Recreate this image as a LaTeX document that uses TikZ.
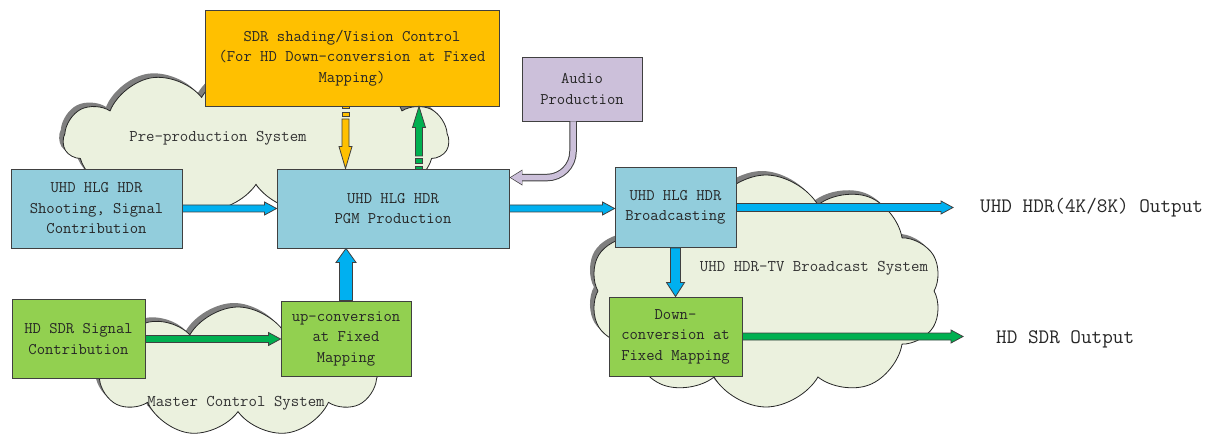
\documentclass[tikz,border=0pt]{standalone}
\usepackage{fontspec}
\usepackage{tikz}
\usetikzlibrary{
  arrows.meta,
  calc,
  shapes.symbols
}
\definecolor{hdrblue}{HTML}{92CDDC}
\definecolor{sdrgreen}{HTML}{92D050}
\definecolor{shadeorange}{HTML}{FFC000}
\definecolor{audiolilac}{HTML}{CCC0DA}
\definecolor{cloudfill}{HTML}{EBF1DE}
\definecolor{cloudshadow}{HTML}{7F7F7F}
\definecolor{sigblue}{HTML}{00B0F0}
\definecolor{siggreen}{HTML}{00B050}
\definecolor{edgegray}{HTML}{404040}

\tikzset{
  blockbox/.style={draw=edgegray, line width=0.9pt, align=center, inner sep=2pt,
    font=\fontsize{16.2}{20.5}\selectfont\ttfamily, text=black!85},
  puffcloud/.style={cloud, cloud puffs=#1, cloud puff arc=120, cloud ignores aspect,
    fill=cloudfill, draw=black!85, line width=0.8pt},
  cloudshade/.style={cloud, cloud puffs=#1, cloud puff arc=120, cloud ignores aspect,
    fill=cloudshadow, draw=none},
  fatarrow/.style args={#1/#2/#3}{
    draw=edgegray, line width=0.8pt, line join=miter,
    to path={
      ($(\tikztostart)!#1pt!90:(\tikztotarget)$)
      -- ($(\tikztotarget)!#3pt!(\tikztostart)!#1pt!90:(\tikztotarget)$)
      -- ($(\tikztotarget)!#3pt!(\tikztostart)!#2pt!90:(\tikztotarget)$)
      -- (\tikztotarget)
      -- ($(\tikztotarget)!#3pt!(\tikztostart)!#2pt!-90:(\tikztotarget)$)
      -- ($(\tikztotarget)!#3pt!(\tikztostart)!#1pt!-90:(\tikztotarget)$)
      -- ($(\tikztostart)!#1pt!-90:(\tikztotarget)$)
      -- cycle}
  }
}

\begin{document}
\begin{tikzpicture}[x=1pt, y=-1pt]

  \useasboundingbox (0,0) rectangle (1209,443);

  %% Clouds (shadow, then body)
  \node[cloudshade=11, minimum width=385, minimum height=148] at (252,136) {};
  \node[puffcloud=11, minimum width=385, minimum height=148] (precloud) at (256,140) {};
  \node[cloudshade=10, minimum width=352, minimum height=232] at (762,287) {};
  \node[puffcloud=10, minimum width=352, minimum height=232] (bccloud) at (766,291) {};
  \node[cloudshade=9, minimum width=280, minimum height=130] at (234,368) {};
  \node[puffcloud=9, minimum width=280, minimum height=130] (mccloud) at (238,372) {};

  %% Cloud labels
  \node[font=\fontsize{16.4}{20}\selectfont\ttfamily, text=black!80]
    (prelabel) at (218,138) {Pre-production System};
  \node[font=\fontsize{16.4}{20}\selectfont\ttfamily, text=black!80]
    (mclabel) at (236,403) {Master Control System};
  \node[font=\fontsize{16.4}{20}\selectfont\ttfamily, text=black!80]
    (bclabel) at (814,268) {UHD HDR-TV Broadcast System};

  %% Boxes
  \node[blockbox, fill=shadeorange, minimum width=294, minimum height=96]
    (shading) at (352,58) {SDR shading/Vision Control\\(For HD Down-conversion at Fixed\\Mapping)};
  \node[blockbox, fill=audiolilac, minimum width=120, minimum height=64]
    (audio) at (582,89) {Audio\\Production};
  \node[blockbox, fill=hdrblue, minimum width=171, minimum height=79]
    (shoot) at (96.5,208.5) {UHD HLG HDR\\Shooting, Signal\\Contribution};
  \node[blockbox, fill=hdrblue, minimum width=232, minimum height=79]
    (pgm) at (393,208.5) {UHD HLG HDR\\PGM Production};
  \node[blockbox, fill=hdrblue, minimum width=121, minimum height=80]
    (bcast) at (675.5,207.5) {UHD HLG HDR\\Broadcasting};
  \node[blockbox, fill=sdrgreen, minimum width=133, minimum height=79]
    (down) at (675.5,336.5) {Down-\\conversion at\\Fixed Mapping};
  \node[blockbox, fill=sdrgreen, minimum width=133, minimum height=79]
    (hdsdr) at (78.5,339) {HD SDR Signal\\Contribution};
  \node[blockbox, fill=sdrgreen, minimum width=130, minimum height=75]
    (upconv) at (346,338.5) {up-conversion\\at Fixed\\Mapping};

  %% Outputs
  \node[font=\fontsize{20.6}{24}\selectfont\ttfamily, text=black!85, anchor=west, inner sep=0]
    (uhdout) at (980,208) {UHD HDR(4K/8K) Output};
  \node[font=\fontsize{20.6}{24}\selectfont\ttfamily, text=black!85, anchor=west, inner sep=0]
    (sdrout) at (996,339) {HD SDR Output};
  \coordinate (uhdtip) at ($(uhdout.west)+(-27,0)$);
  \coordinate (sdrtip) at ($(sdrout.west)+(-33,0)$);

  %% Signal arrows
  \draw[fatarrow=3.5/6.5/12, fill=sigblue] (shoot.east) to (pgm.west);
  \draw[fatarrow=3.5/6.5/12, fill=sigblue] (pgm.east) to (pgm.east -| bcast.west);
  \draw[fatarrow=4/6.5/12, fill=sigblue] (bcast.east) to (bcast.east -| uhdtip);
  \draw[fatarrow=5/9/14, fill=sigblue] (bcast.south) to (down.north);
  \draw[fatarrow=3.5/6.5/12, fill=siggreen] (down.east) to (down.east -| sdrtip);
  \draw[fatarrow=3.5/6.5/12, fill=siggreen] (hdsdr.east) to (hdsdr.east -| upconv.west);
  \draw[fatarrow=6.5/10/14, fill=sigblue] (upconv.north) to (pgm.south -| upconv.north);

  %% Shading control loop (striped tails)
  \coordinate (otail) at (345.5,119);
  \draw[fatarrow=3.5/6.5/22, fill=shadeorange] (otail) to (pgm.north -| otail);
  \draw[draw=edgegray, line width=0.8pt, fill=shadeorange] (342,106) rectangle (349,108.5);
  \draw[draw=edgegray, line width=0.8pt, fill=shadeorange] (342,112) rectangle (349,116);

  \coordinate (gtail) at (419,156);
  \draw[fatarrow=3.5/6.5/21, fill=siggreen] (gtail) to (shading.south -| gtail);
  \draw[draw=edgegray, line width=0.8pt, fill=siggreen] (415.5,158) rectangle (422.5,163);
  \draw[draw=edgegray, line width=0.8pt, fill=siggreen] (415.5,166) rectangle (422.5,169);

  %% Audio feed
  \coordinate (aout) at ($(audio.south)+(-9,0)$);
  \coordinate (ain) at ($(pgm.north east)+(0,9)$);
  \draw[line width=7.5, edgegray, rounded corners=26, -{Triangle[length=13pt,width=15pt]}]
    (aout) |- (ain);
  \draw[line width=5.5, audiolilac, rounded corners=26, shorten >=1.3pt,
    -{Triangle[length=11pt,width=12.5pt]}] (aout) |- (ain);

\end{tikzpicture}
\end{document}
